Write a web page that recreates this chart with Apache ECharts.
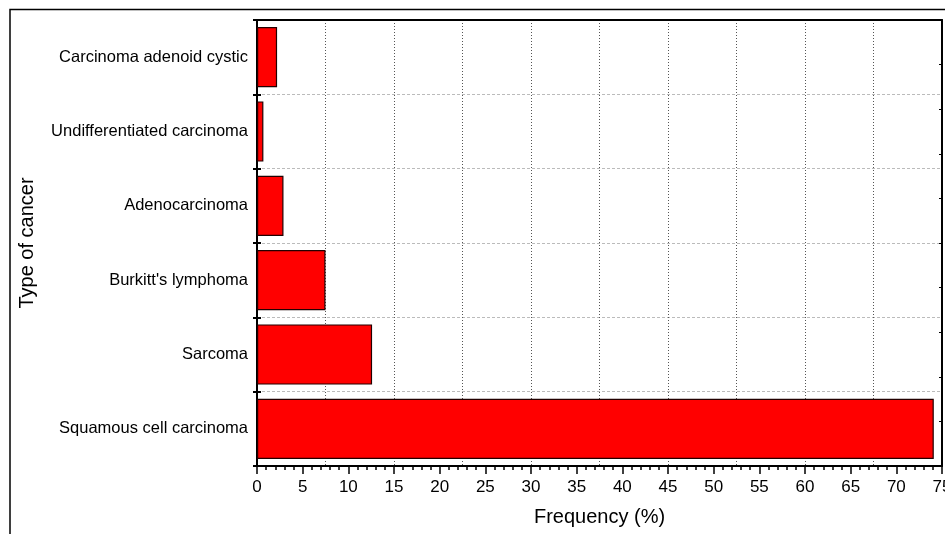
<!DOCTYPE html>
<html>
<head>
<meta charset="utf-8">
<script src="https://cdn.jsdelivr.net/npm/echarts@6/dist/echarts.min.js"></script>
<style>
html,body{margin:0;padding:0;background:#fff;}
#chart{width:945px;height:534px;}
</style>
</head>
<body>
<div id="chart"></div>
<script>
// Data (bottom to top as ECharts category order)
const categories = [
  "Squamous cell carcinoma",
  "Sarcoma",
  "Burkitt's lymphoma",
  "Adenocarcinoma",
  "Undifferentiated carcinoma",
  "Carcinoma adenoid cystic"
];
const frequency = [74.1, 12.6, 7.5, 2.9, 0.7, 2.2];
const xTickInterval = 5;
const xGridInterval = 7.5;
const xMax = 75;

const FONT = "'Liberation Sans', Arial, sans-serif";
const chart = echarts.init(document.getElementById('chart'), null, {renderer: 'canvas'});
chart.setOption({
  animation: false,
  backgroundColor: '#fff',
  textStyle: {fontFamily: FONT, color: '#000'},
  graphic: [{
    type: 'rect', z: 100,
    shape: {x: 10, y: 9.5, width: 1000, height: 600},
    style: {fill: 'none', stroke: '#000', lineWidth: 1.5}
  }],
  grid: {left: 257, right: 3, top: 20, bottom: 68, containLabel: false, outerBoundsMode: 'none'},
  xAxis: [{
    type: 'value', position: 'bottom', min: 0, max: xMax, interval: xTickInterval,
    axisLine: {show: true, onZero: false, lineStyle: {color: '#000', width: 2}},
    axisTick: {show: true, inside: false, length: 8, lineStyle: {color: '#000', width: 1.5}},
    minorTick: {show: true, splitNumber: 5, length: 4, lineStyle: {color: '#000', width: 1.5}},
    axisLabel: {fontFamily: FONT, fontSize: 17, color: '#000', margin: 13, showMaxLabel: true},
    splitLine: {show: false},
    name: 'Frequency (%)', nameLocation: 'middle', nameGap: 41,
    nameTextStyle: {fontFamily: FONT, fontSize: 20, color: '#000'}
  }, {
    type: 'value', position: 'top', min: 0, max: xMax, interval: xGridInterval,
    axisLine: {show: true, onZero: false, lineStyle: {color: '#000', width: 2}},
    axisTick: {show: false}, axisLabel: {show: false},
    splitLine: {show: true, lineStyle: {color: '#555', width: 1, type: [1, 2]}}
  }],
  yAxis: [{
    type: 'category', position: 'left', data: categories,
    axisLine: {show: true, onZero: false, lineStyle: {color: '#000', width: 2}},
    axisTick: {show: true, inside: false, length: 4, lineStyle: {color: '#000', width: 2}},
    axisLabel: {fontFamily: FONT, fontSize: 16.5, color: '#000', margin: 9},
    splitLine: {show: true, lineStyle: {color: '#bbb', width: 1, type: [3, 2]}},
    name: 'Type of cancer', nameLocation: 'middle', nameGap: 220,
    nameTextStyle: {fontFamily: FONT, fontSize: 20, color: '#000'}
  }, {
    type: 'category', position: 'left', data: categories,
    axisLine: {show: false},
    axisTick: {show: true, inside: true, length: 4, lineStyle: {color: '#000', width: 2}},
    axisLabel: {show: false}, splitLine: {show: false}
  }, {
    type: 'category', position: 'left', data: categories,
    axisLine: {show: false},
    axisTick: {show: true, inside: true, alignWithLabel: true, length: 3, lineStyle: {color: '#000', width: 1}},
    axisLabel: {show: false}, splitLine: {show: false}
  }, {
    type: 'value', position: 'right', min: 0, max: 10, interval: 1,
    axisLine: {show: true, onZero: false, lineStyle: {color: '#000', width: 2}},
    axisTick: {show: true, inside: true, length: 3, lineStyle: {color: '#000', width: 1}},
    axisLabel: {show: false}, splitLine: {show: false}
  }],
  series: [{
    type: 'bar', xAxisIndex: 0, yAxisIndex: 0,
    data: frequency,
    barCategoryGap: '19%',
    itemStyle: {color: '#ff0000', borderColor: '#200', borderWidth: 1.2}
  }]
});
</script>
</body>
</html>
